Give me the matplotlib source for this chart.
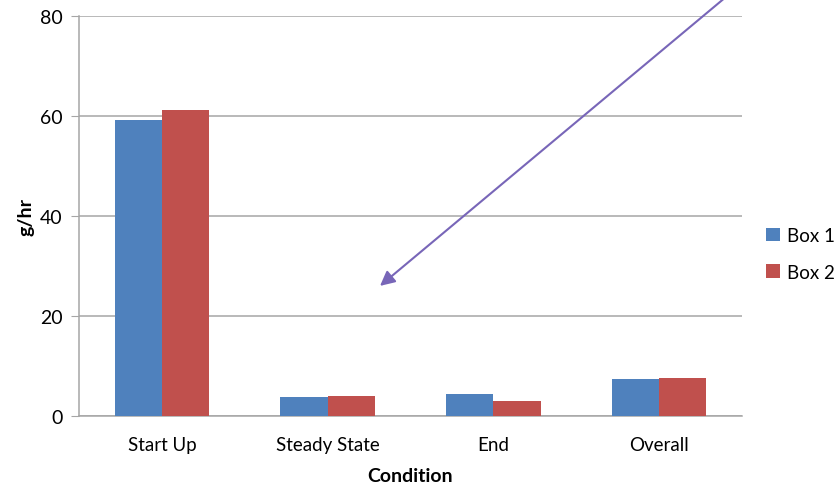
import numpy as np
import matplotlib.pyplot as plt

plt.rcParams['font.family'] = ['Lato', 'DejaVu Sans']

# Emission rate per condition for each box
conditions = ['Start Up', 'Steady State', 'End', 'Overall']
box1 = [59.2, 3.8, 4.4, 7.4]
box2 = [61.3, 4.0, 3.0, 7.6]
yticks = [0, 20, 40, 60, 80]

fig = plt.figure(figsize=(8.34, 4.85), dpi=100)
ax = fig.add_axes([79 / 834, 1 - 417.3 / 485, 663 / 834, 400 / 485])

x = np.arange(len(conditions))
w = 0.285
b1 = ax.bar(x - w / 2, box1, w, color='#4f81bd', label='Box 1', zorder=3)
b2 = ax.bar(x + w / 2, box2, w, color='#c0504d', label='Box 2', zorder=3)

ax.set_xlim(-0.5, len(conditions) - 0.5)
ax.set_ylim(0, 80)
ax.set_yticks(yticks)
ax.set_xticks(x)
ax.set_xticklabels(conditions)
ax.yaxis.grid(True, color='#a6a6a6', linewidth=1.1, zorder=0)
ax.tick_params(axis='y', length=6, color='#a6a6a6', labelsize=14, pad=6)
ax.tick_params(axis='x', length=0, labelsize=13.5, pad=14)

for s in ['top', 'right']:
    ax.spines[s].set_visible(False)
for s in ['left', 'bottom']:
    ax.spines[s].set_color('#a6a6a6')
    ax.spines[s].set_linewidth(1.1)

ax.set_xlabel('Condition', fontsize=14, fontweight='bold', labelpad=10)
ax.set_ylabel('g/hr', fontsize=14, fontweight='bold', labelpad=4)

fig.legend(handles=[b1, b2], loc='center left', bbox_to_anchor=(766 / 834, 1 - 255 / 485),
           frameon=False, fontsize=13.5, handlelength=0.75, handleheight=0.75,
           handletextpad=0.35, labelspacing=1.05, borderpad=0, borderaxespad=0)

# pointer arrow coming in from the top
ax.annotate('', xy=(0.454, 0.326), xytext=(0.977, 1.05), xycoords='axes fraction',
            textcoords='axes fraction', annotation_clip=False,
            arrowprops=dict(arrowstyle='-|>', color='#7866b8', lw=1.5,
                            mutation_scale=22, shrinkA=0, shrinkB=0))

fig.savefig('out.png', dpi=100)
